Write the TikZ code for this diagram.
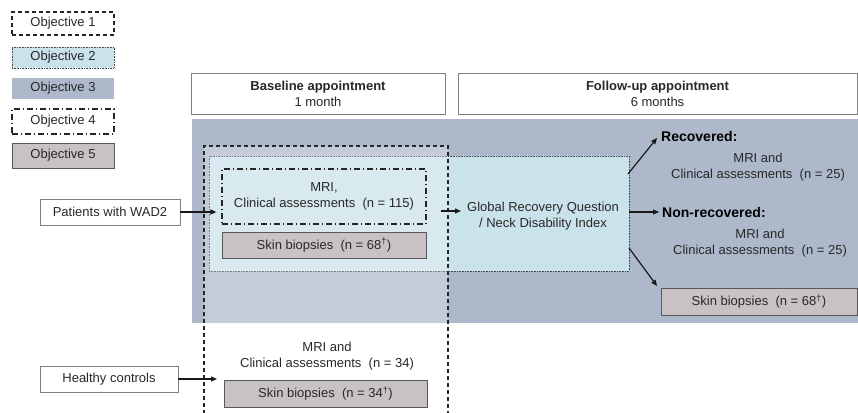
\documentclass[tikz,border=0pt]{standalone}
\usepackage{fontspec}
\setmainfont{Liberation Sans}
\usetikzlibrary{arrows.meta}
\definecolor{regionc}{RGB}{173,185,202}
\definecolor{lblue}{RGB}{202,226,234}
\definecolor{skinc}{RGB}{201,194,197}
\definecolor{edgec}{RGB}{89,89,89}
\definecolor{txtc}{RGB}{40,40,40}
\definecolor{hdrc}{RGB}{128,128,128}
\tikzset{
  txt/.style={font=\fontsize{13}{16}\selectfont, text=txtc, align=center, inner sep=0pt},
  bold/.style={font=\fontsize{14}{16}\selectfont\bfseries, text=black, inner sep=0pt},
  rbox/.style={txt, minimum width=#1, inner sep=0pt},
  obja/.style={draw=black!85, line width=1.3pt, dash pattern=on 4pt off 3pt},
  objb/.style={draw=black!70, fill=lblue, line width=0.7pt, dash pattern=on 0.8pt off 0.8pt},
  objc/.style={fill=regionc},
  objd/.style={draw=black!85, line width=1.2pt, dash pattern=on 6pt off 3pt on 1pt off 3pt},
  obje/.style={draw=edgec, fill=skinc, line width=1pt},
  plain/.style={draw=hdrc, fill=white, line width=0.9pt},
  arr/.style={-{Triangle[length=6pt,width=5pt]}, line width=1.2pt, draw=black!90},
}
\begin{document}
\begin{tikzpicture}[x=1pt,y=-1pt]
\useasboundingbox (0,0) rectangle (858,412);
\clip (0,0) rectangle (858,412);
% legend
\node[rbox=102pt, obja, minimum height=23pt] (o1) at (63,23.5) {Objective 1};
\node[rbox=102pt, objb, minimum height=21pt] (o2) at (63,57.5) {Objective 2};
\node[rbox=102pt, objc, minimum height=21pt] (o3) at (63,88.5) {Objective 3};
\node[rbox=102pt, objd, minimum height=25pt] (o4) at (63,121.5) {Objective 4};
\node[rbox=102pt, obje, minimum height=25pt] (o5) at (63,155.5) {Objective 5};
% headers
\node[rbox=254pt, plain, minimum height=41pt] (hb) at (318,93.5) {\textbf{Baseline appointment}\\1 month};
\node[rbox=399pt, plain, minimum height=41pt] (hf) at (657.5,93.5) {\textbf{Follow-up appointment}\\6 months};
% objective 3 region
\node[objc, minimum width=668pt, minimum height=204pt, inner sep=0pt] (reg) at (526,221) {};
% objective 2 box
\node[objb, minimum width=420pt, minimum height=115pt, inner sep=0pt] (blue) at (419,213.5) {};
% objective 1 dashed box
\node[obja, fill=white, fill opacity=0.28, minimum width=244pt, minimum height=284pt, inner sep=0pt] (dash) at (326,288) {};
% objective 4 box
\node[rbox=204pt, objd, minimum height=55pt] (dd) at (324,196.5) {MRI,\\Clinical assessments~~(n = 115)};
\node[rbox=204pt, obje, minimum height=26pt] (sk1) at (324,245) {Skin biopsies~~(n = 68\textsuperscript{†})};
% GRQ
\node[txt] (grq) at (543,216) {Global Recovery Question\\/ Neck Disability Index};
% inputs
\node[rbox=140pt, plain, minimum height=26pt] (pat) at (110,212) {Patients with WAD2};
\node[rbox=138pt, plain, minimum height=26pt] (hc) at (109,379) {Healthy controls};
% healthy controls group
\node[txt] (hct) at (327,356) {MRI and\\Clinical assessments~~(n = 34)};
\node[rbox=203pt, obje, minimum height=27pt] (sk2) at (325.5,393.5) {Skin biopsies~~(n = 34\textsuperscript{†})};
% follow-up
\node[bold, anchor=west] (rec) at (661,136) {Recovered:};
\node[txt] (rect) at (758,167) {MRI and\\Clinical assessments~~(n = 25)};
\node[bold, anchor=west] (nrec) at (662,212) {Non-recovered:};
\node[txt] (nrect) at (760,243) {MRI and\\Clinical assessments~~(n = 25)};
\node[rbox=196pt, obje, minimum height=27pt] (sk3) at (759,301.5) {Skin biopsies~~(n = 68\textsuperscript{†})};
% arrow ends
\coordinate (g0) at (441,211);
\coordinate (g1) at (461,211);
\coordinate (r0) at (628,174);
\coordinate (r1) at (657,138);
\coordinate (n0) at (629,212);
\coordinate (s0) at (629,248);
\coordinate (s1) at (657,286);
\coordinate (h1) at (217,379);
% arrows
\draw[arr, shorten >=5pt] (pat.east) -- (pat.east -| dd.west);
\draw[arr] (hc.east) -- (h1);
\draw[arr] (g0) -- (g1);
\draw[arr] (r0) -- (r1);
\draw[arr, shorten >=3pt] (n0) -- (nrec.west);
\draw[arr] (s0) -- (s1);
\end{tikzpicture}
\end{document}
